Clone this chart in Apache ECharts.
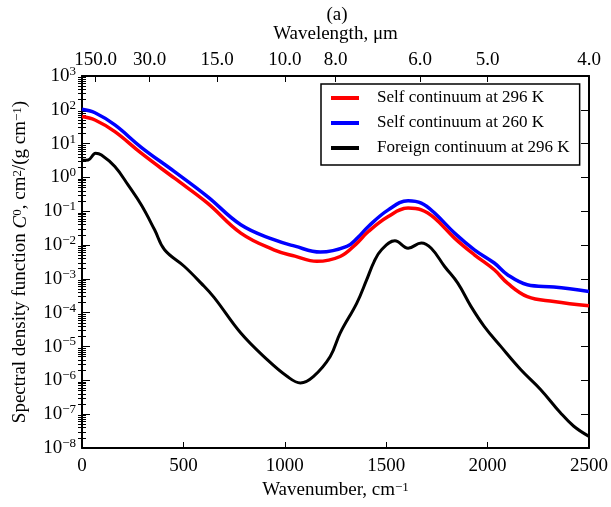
<!DOCTYPE html>
<html><head><meta charset="utf-8">
<script src="https://cdn.jsdelivr.net/npm/echarts@6/dist/echarts.min.js"></script>
<style>html,body{margin:0;padding:0;background:#fff}#c{width:611px;height:507px}</style>
</head><body><div id="c"></div>
<script>
// ---- data ----
const selfWn296 = [0, 64, 162, 292, 456, 619, 783, 946, 1050, 1158, 1273, 1350, 1412, 1510, 1608, 1673, 1739, 1837, 1935, 2033, 2098, 2196, 2327, 2500];
const selfVal296 = [63, 50, 22.6, 5.2, 0.95, 0.174, 0.0226, 0.00726, 0.0047, 0.0033, 0.0046, 0.0105, 0.0252, 0.070, 0.124, 0.110, 0.0627, 0.0161, 0.00517, 0.00186, 7.5e-4, 3.0e-4, 2.16e-4, 1.6e-4];

const selfWn260 = [0, 64, 162, 292, 456, 619, 783, 946, 1050, 1175, 1306, 1360, 1412, 1510, 1608, 1673, 1739, 1837, 1935, 2033, 2098, 2196, 2327, 2500];
const selfVal260 = [104, 82, 35.7, 7.8, 1.49, 0.272, 0.040, 0.0144, 0.0093, 0.0062, 0.0091, 0.0166, 0.0355, 0.110, 0.204, 0.174, 0.088, 0.0226, 0.00726, 0.00295, 0.00133, 6.75e-4, 5.75e-4, 4.27e-4];

const foreignWn296 = [0, 31, 67, 96, 162, 227, 292, 358, 407, 505, 587, 652, 783, 913, 1011, 1077, 1142, 1224, 1273, 1355, 1404, 1440, 1477, 1543, 1608, 1673, 1722, 1788, 1853, 1918, 1984, 2065, 2163, 2261, 2359, 2425, 2500];
const foreignVal296 = [3.2, 3.3, 5.2, 4.6, 2.1, 0.60, 0.155, 0.0283, 0.00726, 0.00233, 7.5e-4, 2.8e-4, 2.5e-5, 4.1e-6, 1.32e-6, 8.4e-7, 1.32e-6, 5.1e-6, 2.5e-5, 1.93e-4, 9.5e-4, 3.2e-3, 7.3e-3, 0.0134, 0.0081, 0.0115, 0.0081, 0.00233, 7.5e-4, 1.54e-4, 3.9e-5, 1.01e-5, 2.1e-6, 5.4e-7, 1.1e-7, 4.4e-8, 2.2e-8];

const seriesNames = ['Self continuum at 296 K', 'Self continuum at 260 K', 'Foreign continuum at 296 K'];
const xTicks = [0, 500, 1000, 1500, 2000, 2500];
const wavelengthTicks = [150, 30, 15, 10, 8, 6, 5, 4];
const yExponents = [-8, -7, -6, -5, -4, -3, -2, -1, 0, 1, 2, 3];

// ---- chart ----
const FONT = 'Liberation Serif';
const zip = (a, b) => a.map((v, i) => [v, b[i]]);
const majorY = yExponents.map(e => Math.pow(10, e));
const minorY = [];
yExponents.slice(0, -1).forEach(e => { for (let m = 2; m <= 9; m++) minorY.push(m * Math.pow(10, e)); });
const sup = s => '{s|' + s + '}';
const expText = e => (e < 0 ? '\u2212' + (-e) : '' + e);

const chart = echarts.init(document.getElementById('c'), null, {renderer: 'canvas'});
const baseY = {
  type: 'log', logBase: 10, min: 1e-8, max: 1e3, gridIndex: 0,
  splitLine: {show: false}, minorTick: {show: false}, minorSplitLine: {show: false}
};
chart.setOption({
  animation: false,
  backgroundColor: '#fff',
  textStyle: {fontFamily: FONT, color: '#000'},
  grid: {left: 82, right: 19, top: 76, bottom: 59, containLabel: false},
  graphic: [{type: 'text', x: 337, y: 15, style: {text: '(a)', font: '19px ' + FONT, fill: '#000', textAlign: 'center', textVerticalAlign: 'middle'}}],
  legend: {
    orient: 'vertical', left: 321, top: 84, padding: [4, 10, 7, 10], itemGap: 5,
    itemWidth: 28, itemHeight: 4, icon: 'rect', borderColor: '#000', borderWidth: 1.5,
    backgroundColor: '#fff',
    textStyle: {fontFamily: FONT, fontSize: 17, color: '#000', lineHeight: 20, padding: [0, 0, 0, 13]},
    data: seriesNames
  },
  xAxis: [{
    type: 'value', position: 'bottom', min: 0, max: 2500, interval: 500,
    name: 'Wavenumber, cm' + sup('\u22121'), nameLocation: 'middle', nameGap: 32,
    nameTextStyle: {fontFamily: FONT, fontSize: 19, color: '#000', rich: {s: {fontFamily: FONT, fontSize: 13, verticalAlign: 'top', lineHeight: 12}}},
    axisLine: {show: true, onZero: false, lineStyle: {color: '#000', width: 2}},
    axisTick: {show: true, inside: true, length: 6, lineStyle: {color: '#000', width: 1}, customValues: xTicks},
    axisLabel: {fontFamily: FONT, fontSize: 19, color: '#000', margin: 9, customValues: xTicks, formatter: v => String(v)},
    splitLine: {show: false}
  }, {
    type: 'value', position: 'top', min: 0, max: 2500,
    name: 'Wavelength, \u03bcm', nameLocation: 'middle', nameGap: 32,
    nameTextStyle: {fontFamily: FONT, fontSize: 19, color: '#000'},
    axisLine: {show: true, onZero: false, lineStyle: {color: '#000', width: 2}},
    axisTick: {show: true, inside: true, length: 6, lineStyle: {color: '#000', width: 1}, customValues: wavelengthTicks.map(l => 1e4 / l)},
    axisLabel: {fontFamily: FONT, fontSize: 19, color: '#000', margin: 6, customValues: wavelengthTicks.map(l => 1e4 / l),
      formatter: v => (1e4 / v).toFixed(1)},
    splitLine: {show: false}
  }],
  yAxis: [Object.assign({}, baseY, {
    position: 'left',
    name: 'Spectral density function {i|C}' + sup('0') + ', cm' + sup('2') + '/(g cm' + sup('\u22121') + ')',
    nameLocation: 'middle', nameGap: 52,
    nameTextStyle: {fontFamily: FONT, fontSize: 19, color: '#000', rich: {
      s: {fontFamily: FONT, fontSize: 13, verticalAlign: 'top', lineHeight: 12},
      i: {fontFamily: FONT, fontSize: 19, fontStyle: 'italic'}}},
    axisLine: {show: true, onZero: false, lineStyle: {color: '#000', width: 2}},
    axisTick: {show: true, inside: true, length: 8, lineStyle: {color: '#000', width: 1}, customValues: majorY},
    axisLabel: {fontFamily: FONT, fontSize: 19, color: '#000', margin: 6, customValues: majorY,
      formatter: v => '{b|10}' + sup(expText(Math.round(Math.log10(v)))),
      rich: {b: {fontFamily: FONT, fontSize: 19, lineHeight: 22}, s: {fontFamily: FONT, fontSize: 13, verticalAlign: 'top', lineHeight: 12}}}
  }), Object.assign({}, baseY, {
    position: 'right',
    axisLine: {show: true, onZero: false, lineStyle: {color: '#000', width: 2}},
    axisTick: {show: true, inside: true, length: 8, lineStyle: {color: '#000', width: 1}, customValues: majorY},
    axisLabel: {show: false}
  }), Object.assign({}, baseY, {
    position: 'left',
    axisLine: {show: false},
    axisTick: {show: true, inside: true, length: 4, lineStyle: {color: '#000', width: 1}, customValues: minorY},
    axisLabel: {show: false}
  }), Object.assign({}, baseY, {
    position: 'right',
    axisLine: {show: false},
    axisTick: {show: true, inside: true, length: 4, lineStyle: {color: '#000', width: 1}, customValues: minorY},
    axisLabel: {show: false}
  })],
  series: [
    {name: seriesNames[0], type: 'line', xAxisIndex: 0, yAxisIndex: 0, data: zip(selfWn296, selfVal296),
     showSymbol: false, symbol: 'none', smooth: 0.4, color: '#ff0000', lineStyle: {color: '#ff0000', width: 3.5}, z: 3},
    {name: seriesNames[1], type: 'line', xAxisIndex: 0, yAxisIndex: 0, data: zip(selfWn260, selfVal260),
     showSymbol: false, symbol: 'none', smooth: 0.4, color: '#0000ff', lineStyle: {color: '#0000ff', width: 3.5}, z: 2},
    {name: seriesNames[2], type: 'line', xAxisIndex: 0, yAxisIndex: 0, data: zip(foreignWn296, foreignVal296),
     showSymbol: false, symbol: 'none', smooth: 0.4, color: '#000000', lineStyle: {color: '#000000', width: 3}, z: 4}
  ]
});
</script></body></html>
